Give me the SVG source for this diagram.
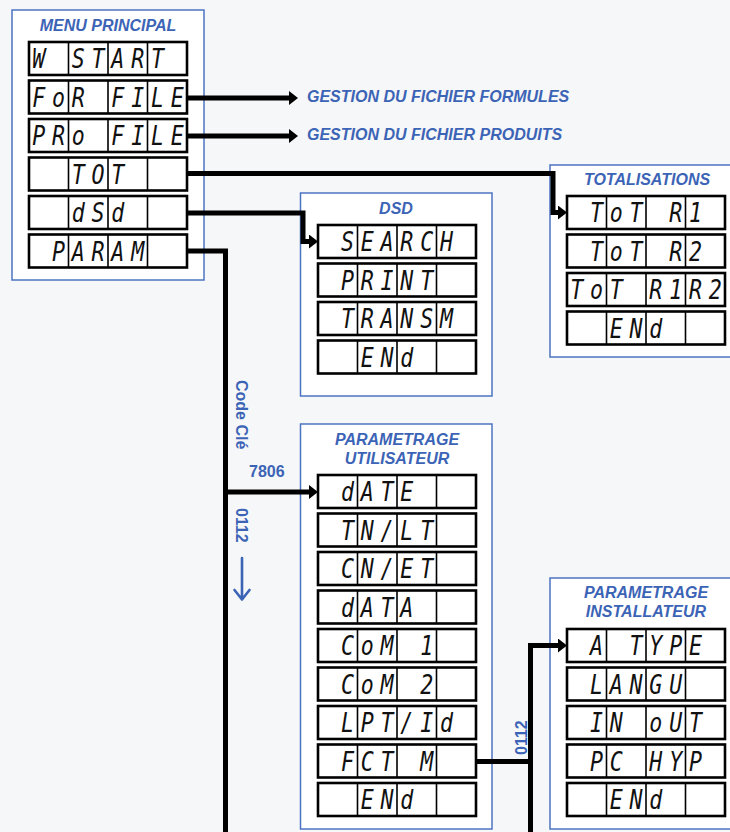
<svg xmlns="http://www.w3.org/2000/svg" width="730" height="832" viewBox="0 0 730 832">
<style>
.bg{fill:#f6f7f8}
.panel{fill:#ffffff;stroke:#4d74c2;stroke-width:1.5}
.box{fill:#ffffff;stroke:#000;stroke-width:2.6}
.dv{fill:none;stroke:#000;stroke-width:1.6}
.lcd{font-family:"DejaVu Sans Mono","Liberation Mono",monospace;font-size:27px;font-style:oblique;text-anchor:middle;fill:#111}
.t{font-family:"Liberation Sans",Arial,sans-serif;font-weight:bold;font-style:italic;font-size:16px;fill:#3c64b6;text-anchor:middle}
.g{font-family:"Liberation Sans",Arial,sans-serif;font-weight:bold;font-style:italic;font-size:16px;fill:#3c64b6}
.k{font-family:"Liberation Sans",Arial,sans-serif;font-weight:bold;font-size:16px;fill:#3c64b6}
.conn{fill:none;stroke:#000;stroke-width:5;stroke-linejoin:miter}
.blue{fill:none;stroke:#3c64b6;stroke-width:2.6;stroke-linecap:round;stroke-linejoin:round}
</style>
<defs>
<marker id="ah" markerUnits="userSpaceOnUse" markerWidth="9" markerHeight="14" refX="0" refY="7" orient="auto">
<path d="M0,0 L9,7 L0,14 z" fill="#000"/>
</marker>
<g id="lcdbox">
<rect class="box" x="0" y="0" width="158" height="33"/>
<path class="dv" d="M39.5 0V33M79 0V33M118.5 0V33"/>
</g>
</defs>
<rect class="bg" x="0" y="0" width="730" height="832"/>

<g id="menu-principal">
<rect class="panel" x="12" y="10" width="192" height="270"/>
<text class="t" x="108" y="31">MENU PRINCIPAL</text>
<g transform="translate(29,42)"><use href="#lcdbox"/><text class="lcd" xml:space="preserve" transform="translate(0,26) scale(0.8,1)" x="12.3 37 61.7 86.4 111.1 135.8 160.5 185.2" y="0">W START </text></g>
<g transform="translate(29,80.5)"><use href="#lcdbox"/><text class="lcd" xml:space="preserve" transform="translate(0,26) scale(0.8,1)" x="12.3 37 61.7 86.4 111.1 135.8 160.5 185.2" y="0">FoR FILE</text></g>
<g transform="translate(29,119)"><use href="#lcdbox"/><text class="lcd" xml:space="preserve" transform="translate(0,26) scale(0.8,1)" x="12.3 37 61.7 86.4 111.1 135.8 160.5 185.2" y="0">PRo FILE</text></g>
<g transform="translate(29,157.5)"><use href="#lcdbox"/><text class="lcd" xml:space="preserve" transform="translate(0,26) scale(0.8,1)" x="12.3 37 61.7 86.4 111.1 135.8 160.5 185.2" y="0">  TOT   </text></g>
<g transform="translate(29,196)"><use href="#lcdbox"/><text class="lcd" xml:space="preserve" transform="translate(0,26) scale(0.8,1)" x="12.3 37 61.7 86.4 111.1 135.8 160.5 185.2" y="0">  dSd   </text></g>
<g transform="translate(29,234.5)"><use href="#lcdbox"/><text class="lcd" xml:space="preserve" transform="translate(0,26) scale(0.8,1)" x="12.3 37 61.7 86.4 111.1 135.8 160.5 185.2" y="0"> PARAM  </text></g>
</g>

<g id="dsd">
<rect class="panel" x="300.5" y="193" width="191.5" height="203"/>
<text class="t" x="396" y="214">DSD</text>
<g transform="translate(318,225)"><use href="#lcdbox"/><text class="lcd" xml:space="preserve" transform="translate(0,26) scale(0.8,1)" x="12.3 37 61.7 86.4 111.1 135.8 160.5 185.2" y="0"> SEARCH </text></g>
<g transform="translate(318,263.5)"><use href="#lcdbox"/><text class="lcd" xml:space="preserve" transform="translate(0,26) scale(0.8,1)" x="12.3 37 61.7 86.4 111.1 135.8 160.5 185.2" y="0"> PRINT  </text></g>
<g transform="translate(318,302)"><use href="#lcdbox"/><text class="lcd" xml:space="preserve" transform="translate(0,26) scale(0.8,1)" x="12.3 37 61.7 86.4 111.1 135.8 160.5 185.2" y="0"> TRANSM </text></g>
<g transform="translate(318,340.5)"><use href="#lcdbox"/><text class="lcd" xml:space="preserve" transform="translate(0,26) scale(0.8,1)" x="12.3 37 61.7 86.4 111.1 135.8 160.5 185.2" y="0">  ENd   </text></g>
</g>

<g id="totalisations">
<rect class="panel" x="550" y="165" width="190" height="192"/>
<text class="t" x="647" y="185">TOTALISATIONS</text>
<g transform="translate(567,196)"><use href="#lcdbox"/><text class="lcd" xml:space="preserve" transform="translate(0,26) scale(0.8,1)" x="12.3 37 61.7 86.4 111.1 135.8 160.5 185.2" y="0"> ToT R1 </text></g>
<g transform="translate(567,234.5)"><use href="#lcdbox"/><text class="lcd" xml:space="preserve" transform="translate(0,26) scale(0.8,1)" x="12.3 37 61.7 86.4 111.1 135.8 160.5 185.2" y="0"> ToT R2 </text></g>
<g transform="translate(567,273)"><use href="#lcdbox"/><text class="lcd" xml:space="preserve" transform="translate(0,26) scale(0.8,1)" x="12.3 37 61.7 86.4 111.1 135.8 160.5 185.2" y="0">ToT R1R2</text></g>
<g transform="translate(567,311.5)"><use href="#lcdbox"/><text class="lcd" xml:space="preserve" transform="translate(0,26) scale(0.8,1)" x="12.3 37 61.7 86.4 111.1 135.8 160.5 185.2" y="0">  ENd   </text></g>
</g>

<g id="parametrage-utilisateur">
<rect class="panel" x="300.5" y="424" width="191.5" height="405"/>
<text class="t" x="397" y="445">PARAMETRAGE</text>
<text class="t" x="397" y="464">UTILISATEUR</text>
<g transform="translate(318,475)"><use href="#lcdbox"/><text class="lcd" xml:space="preserve" transform="translate(0,26) scale(0.8,1)" x="12.3 37 61.7 86.4 111.1 135.8 160.5 185.2" y="0"> dATE   </text></g>
<g transform="translate(318,513.5)"><use href="#lcdbox"/><text class="lcd" xml:space="preserve" transform="translate(0,26) scale(0.8,1)" x="12.3 37 61.7 86.4 111.1 135.8 160.5 185.2" y="0"> TN/LT  </text></g>
<g transform="translate(318,552)"><use href="#lcdbox"/><text class="lcd" xml:space="preserve" transform="translate(0,26) scale(0.8,1)" x="12.3 37 61.7 86.4 111.1 135.8 160.5 185.2" y="0"> CN/ET  </text></g>
<g transform="translate(318,590.5)"><use href="#lcdbox"/><text class="lcd" xml:space="preserve" transform="translate(0,26) scale(0.8,1)" x="12.3 37 61.7 86.4 111.1 135.8 160.5 185.2" y="0"> dATA   </text></g>
<g transform="translate(318,629)"><use href="#lcdbox"/><text class="lcd" xml:space="preserve" transform="translate(0,26) scale(0.8,1)" x="12.3 37 61.7 86.4 111.1 135.8 160.5 185.2" y="0"> CoM 1  </text></g>
<g transform="translate(318,667.5)"><use href="#lcdbox"/><text class="lcd" xml:space="preserve" transform="translate(0,26) scale(0.8,1)" x="12.3 37 61.7 86.4 111.1 135.8 160.5 185.2" y="0"> CoM 2  </text></g>
<g transform="translate(318,706)"><use href="#lcdbox"/><text class="lcd" xml:space="preserve" transform="translate(0,26) scale(0.8,1)" x="12.3 37 61.7 86.4 111.1 135.8 160.5 185.2" y="0"> LPT/Id </text></g>
<g transform="translate(318,744.5)"><use href="#lcdbox"/><text class="lcd" xml:space="preserve" transform="translate(0,26) scale(0.8,1)" x="12.3 37 61.7 86.4 111.1 135.8 160.5 185.2" y="0"> FCT M  </text></g>
<g transform="translate(318,783)"><use href="#lcdbox"/><text class="lcd" xml:space="preserve" transform="translate(0,26) scale(0.8,1)" x="12.3 37 61.7 86.4 111.1 135.8 160.5 185.2" y="0">  ENd   </text></g>
</g>

<g id="parametrage-installateur">
<rect class="panel" x="550" y="578" width="190" height="251"/>
<text class="t" x="646" y="598">PARAMETRAGE</text>
<text class="t" x="646" y="617">INSTALLATEUR</text>
<g transform="translate(567,629)"><use href="#lcdbox"/><text class="lcd" xml:space="preserve" transform="translate(0,26) scale(0.8,1)" x="12.3 37 61.7 86.4 111.1 135.8 160.5 185.2" y="0"> A TYPE </text></g>
<g transform="translate(567,667.5)"><use href="#lcdbox"/><text class="lcd" xml:space="preserve" transform="translate(0,26) scale(0.8,1)" x="12.3 37 61.7 86.4 111.1 135.8 160.5 185.2" y="0"> LANGU  </text></g>
<g transform="translate(567,706)"><use href="#lcdbox"/><text class="lcd" xml:space="preserve" transform="translate(0,26) scale(0.8,1)" x="12.3 37 61.7 86.4 111.1 135.8 160.5 185.2" y="0"> IN oUT </text></g>
<g transform="translate(567,744.5)"><use href="#lcdbox"/><text class="lcd" xml:space="preserve" transform="translate(0,26) scale(0.8,1)" x="12.3 37 61.7 86.4 111.1 135.8 160.5 185.2" y="0"> PC HYP </text></g>
<g transform="translate(567,783)"><use href="#lcdbox"/><text class="lcd" xml:space="preserve" transform="translate(0,26) scale(0.8,1)" x="12.3 37 61.7 86.4 111.1 135.8 160.5 185.2" y="0">  ENd   </text></g>
</g>

<g id="connectors">
<path class="conn" d="M187,98 H289" marker-end="url(#ah)"/>
<path class="conn" d="M187,136 H289" marker-end="url(#ah)"/>
<path class="conn" d="M187,173.5 H553 V212.5 H558" marker-end="url(#ah)"/>
<path class="conn" d="M187,213 H303 V241.5 H309" marker-end="url(#ah)"/>
<path class="conn" d="M187,251 H225.5 V832"/>
<path class="conn" d="M225.5,492 H309" marker-end="url(#ah)"/>
<path class="conn" d="M475,761.5 H530.5"/>
<path class="conn" d="M530.5,832 V645.5 H558" marker-end="url(#ah)"/>
<path class="blue" d="M242,558 V599 M234.5,590 L242,599.5 L249.5,590"/>
</g>

<g id="labels">
<text class="g" x="307" y="102">GESTION DU FICHIER FORMULES</text>
<text class="g" x="307" y="140">GESTION DU FICHIER PRODUITS</text>
<text class="k" transform="translate(236,380) rotate(90)">Code Clé</text>
<text class="k" x="249" y="477">7806</text>
<text class="k" transform="translate(236,508) rotate(90)">0112</text>
<text class="k" transform="translate(527,755) rotate(-90)">0112</text>
</g>
</svg>
